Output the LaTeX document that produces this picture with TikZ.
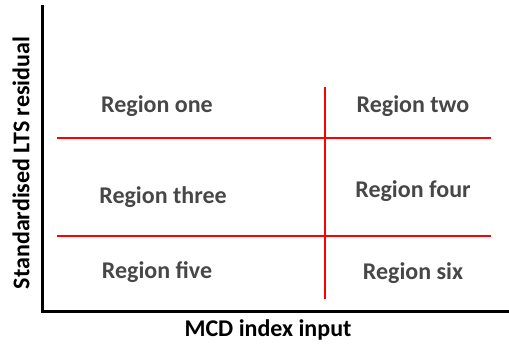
\documentclass[tikz,border=0pt]{standalone}
\usepackage{fontspec}
\setmainfont{Carlito}
\usepackage{tikz}

\begin{document}
\begin{tikzpicture}[x=1pt, y=-1pt,
    region/.style={font=\bfseries\fontsize{24}{28}\selectfont, text=black!72, inner sep=0pt},
    axislabel/.style={font=\bfseries\fontsize{24}{28}\selectfont, inner sep=0pt},
    split/.style={red, line width=2pt}]
    \useasboundingbox (0,0) rectangle (509,348);
    % axes
    \draw[line width=3pt, line cap=rect] (42,6) -- (42,311) -- (508,311);
    % region boundaries
    \draw[split] (57,138) -- (491,138);
    \draw[split] (57,236) -- (491,236);
    \draw[split] (325,87) -- (325,299);
    \node[region] (one) at (157,106) {Region one};
    \node[region] (two) at (413,106) {Region two};
    \node[region] (three) at (163,197) {Region three};
    \node[region] (four) at (413,191) {Region four};
    \node[region] (five) at (157,272) {Region five};
    \node[region] (six) at (413,273) {Region six};
    \node[axislabel] (xlab) at (268,330) {MCD index input};
    \node[axislabel, rotate=90] (ylab) at (21,163) {Standardised LTS residual};
\end{tikzpicture}
\end{document}
